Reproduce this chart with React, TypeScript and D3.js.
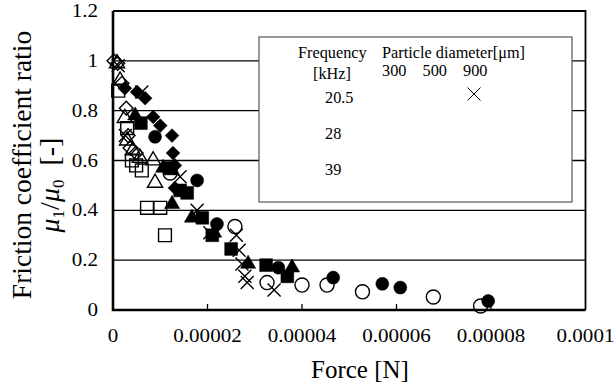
import React from "react";
import * as d3 from "d3";

// axis ticks
const xTicks = [0, 0.00002, 0.00004, 0.00006, 0.00008, 0.0001];
const yTicks = [0, 0.2, 0.4, 0.6, 0.8, 1, 1.2];

// legend texts
const freqLabels = ["20.5", "28", "39"];
const diaLabels = ["300", "500", "900"];

// [force N, mu1/mu0]
const f205_d300 = [
  [0.0000002, 1.0], [0.000001, 0.99], [0.0000019, 0.91], [0.0000028, 0.81],
  [0.0000032, 0.7], [0.0000036, 0.65], [0.0000049, 0.63],
];
const f205_d500 = [
  [0.0000011, 0.88], [0.000003, 0.73], [0.000004, 0.6], [0.0000049, 0.58],
  [0.0000061, 0.56], [0.0000072, 0.41], [0.00001, 0.41], [0.000011, 0.3],
];
const f205_d900 = [
  [0.0000011, 0.98], [0.0000061, 0.875], [0.0000026, 0.7], [0.0000142, 0.535],
  [0.0000178, 0.4], [0.0000205, 0.31], [0.0000261, 0.3], [0.0000267, 0.24],
  [0.0000273, 0.185], [0.0000279, 0.135], [0.0000284, 0.11], [0.0000341, 0.08],
];
const f28_d300 = [
  [0.00000085, 0.99], [0.0000015, 0.92], [0.0000025, 0.77], [0.000003, 0.68],
  [0.0000042, 0.64], [0.0000057, 0.61], [0.0000085, 0.6], [0.0000089, 0.51],
];
const f28_d500 = [
  [0.0000025, 0.89], [0.0000051, 0.875], [0.0000068, 0.85], [0.0000085, 0.775],
  [0.00001, 0.74], [0.0000125, 0.7], [0.0000127, 0.63], [0.0000131, 0.58],
  [0.0000131, 0.49],
];
const f28_d900 = [
  [0.0000059, 0.75], [0.0000121, 0.57], [0.0000142, 0.48], [0.0000157, 0.47],
  [0.0000189, 0.37], [0.000021, 0.3], [0.000025, 0.245], [0.0000324, 0.18],
  [0.0000369, 0.135],
];
const f39_d300 = [
  [0.0000047, 0.78], [0.0000106, 0.57], [0.0000125, 0.56], [0.0000125, 0.425],
  [0.0000167, 0.37], [0.0000214, 0.31], [0.0000286, 0.185], [0.0000379, 0.17],
];
const f39_d500 = [
  [0.0000121, 0.55], [0.0000258, 0.335], [0.0000326, 0.11], [0.00004, 0.1],
  [0.0000453, 0.1], [0.0000528, 0.073], [0.0000678, 0.052], [0.0000778, 0.016],
];
const f39_d900 = [
  [0.0000089, 0.695], [0.0000178, 0.52], [0.000022, 0.345], [0.000035, 0.17],
  [0.0000466, 0.13], [0.000057, 0.105], [0.0000608, 0.09], [0.0000794, 0.036],
];

const series = [
  { name: "20.5kHz 300", marker: "diamond", filled: false, pts: f205_d300 },
  { name: "20.5kHz 500", marker: "square", filled: false, pts: f205_d500 },
  { name: "28kHz 300", marker: "triangle", filled: false, pts: f28_d300 },
  { name: "39kHz 500", marker: "circle", filled: false, pts: f39_d500 },
  { name: "20.5kHz 900", marker: "times", filled: false, pts: f205_d900 },
  { name: "28kHz 500", marker: "diamond", filled: true, pts: f28_d500 },
  { name: "28kHz 900", marker: "square", filled: true, pts: f28_d900 },
  { name: "39kHz 300", marker: "triangle", filled: true, pts: f39_d300 },
  { name: "39kHz 900", marker: "circle", filled: true, pts: f39_d900 },
];

const FONT = "Liberation Serif, Times New Roman, serif";

const markerPath = (type: string, filled: boolean) => {
  if (type === "circle") return d3.symbol(d3.symbolCircle, filled ? 133 : 155)();
  if (type === "square") return d3.symbol(d3.symbolSquare, 165)();
  if (type === "triangle") return d3.symbol(d3.symbolTriangle, 100)();
  if (type === "diamond") return d3.symbol(d3.symbolSquare, 95)();
  const r = 6.5;
  const p = d3.path();
  p.moveTo(-r, -r); p.lineTo(r, r);
  p.moveTo(r, -r); p.lineTo(-r, r);
  return p.toString();
};

const fmtX = (v: number) => (v === 0 ? "0" : v.toFixed(5).replace(/0+$/, ""));
const fmtY = (v: number) => String(+v.toFixed(1));

const App = () => {
  const ref = React.useRef<SVGSVGElement>(null);

  React.useEffect(() => {
    const width = 614;
    const height = 382;
    const plot = { left: 113, right: 585.5, top: 11, bottom: 310 };

    const svg = d3.select(ref.current);
    svg.selectAll("*").remove();
    svg.attr("width", width).attr("height", height);

    const x = d3.scaleLinear().domain([0, 0.0001]).range([plot.left, plot.right]);
    const y = d3.scaleLinear().domain([0, 1.2]).range([plot.bottom, plot.top]);

    // gridlines
    svg.append("g")
      .selectAll("line")
      .data(yTicks.filter(d => d > 0 && d < 1.2))
      .join("line")
      .attr("x1", plot.left).attr("x2", plot.right)
      .attr("y1", d => y(d)).attr("y2", d => y(d))
      .attr("stroke", "#000").attr("stroke-width", 1.3);

    // frame top / right
    svg.append("path")
      .attr("d", `M${plot.left},${y(1.2)}H${x(0.0001)}V${plot.bottom}`)
      .attr("fill", "none").attr("stroke", "#000").attr("stroke-width", 1.8);

    // x tick marks
    svg.append("g")
      .selectAll("line")
      .data(xTicks.filter(d => d > 0 && d < 0.0001))
      .join("line")
      .attr("x1", d => x(d)).attr("x2", d => x(d))
      .attr("y1", plot.bottom).attr("y2", plot.bottom - 6)
      .attr("stroke", "#000").attr("stroke-width", 1.3);

    // legend box
    const lg = svg.append("g").attr("font-family", FONT).attr("font-size", 16.3).attr("fill", "#000");
    lg.append("rect")
      .attr("x", 259).attr("y", 37).attr("width", 313).attr("height", 165)
      .attr("fill", "#fff").attr("stroke", "#555").attr("stroke-width", 1.2);
    lg.append("text").attr("x", 298).attr("y", 58).text("Frequency");
    lg.append("text").attr("x", 313).attr("y", 79).text("[kHz]");
    lg.append("text").attr("x", 382).attr("y", 58).text("Particle diameter[μm]");
    const dx = d3.scalePoint().domain(diaLabels).range([382, 463]);
    lg.selectAll(".dia").data(diaLabels).join("text")
      .attr("class", "dia").attr("x", d => dx(d)!).attr("y", 75.5).text(d => d);
    const fy = d3.scalePoint().domain(freqLabels).range([102.5, 175]);
    lg.selectAll(".freq").data(freqLabels).join("text")
      .attr("class", "freq").attr("x", 325).attr("y", d => fy(d)!).text(d => d);
    lg.append("path")
      .attr("transform", `translate(${dx("900")! + 11},${fy("20.5")! - 8.5})`)
      .attr("d", markerPath("times", false))
      .attr("fill", "none").attr("stroke", "#000").attr("stroke-width", 1);

    // data markers
    series.forEach(s => {
      svg.append("g")
        .selectAll("path")
        .data(s.pts)
        .join("path")
        .attr("transform", d => `translate(${x(d[0])},${y(d[1])})` + (s.marker === "diamond" ? " rotate(45)" : ""))
        .attr("d", markerPath(s.marker, s.filled))
        .attr("fill", s.filled ? "#000" : "none")
        .attr("stroke", "#000")
        .attr("stroke-width", s.filled ? 0.5 : 1.4);
    });

    // axes lines
    svg.append("path")
      .attr("d", `M${plot.left},${plot.top}V${plot.bottom}H${plot.right}`)
      .attr("fill", "none").attr("stroke", "#000").attr("stroke-width", 2.6);

    // tick labels
    svg.append("g")
      .selectAll("text")
      .data(xTicks)
      .join("text")
      .attr("transform", d => `translate(${x(d)},342) scale(1.17,1)`)
      .attr("text-anchor", "middle")
      .attr("font-family", FONT).attr("font-size", 18)
      .text(fmtX);
    svg.append("g")
      .selectAll("text")
      .data(yTicks)
      .join("text")
      .attr("transform", d => `translate(98,${y(d) + 6}) scale(1.17,1)`)
      .attr("text-anchor", "end")
      .attr("font-family", FONT).attr("font-size", 18)
      .text(fmtY);

    // axis titles
    svg.append("text")
      .attr("x", 360).attr("y", 378)
      .attr("text-anchor", "middle")
      .attr("font-family", FONT).attr("font-size", 25)
      .text("Force [N]");
    svg.append("text")
      .attr("transform", "translate(31,165) rotate(-90)")
      .attr("text-anchor", "middle")
      .attr("font-family", FONT).attr("font-size", 27.5)
      .text("Friction coefficient ratio");

    const t2 = svg.append("text")
      .attr("transform", "translate(59,185) rotate(-90)")
      .attr("text-anchor", "middle")
      .attr("font-family", FONT).attr("font-size", 28);
    t2.append("tspan").attr("font-style", "italic").text("μ");
    t2.append("tspan").attr("font-size", 17).attr("dy", 5).text("1");
    t2.append("tspan").attr("dy", -5).text("/");
    t2.append("tspan").attr("font-style", "italic").text("μ");
    t2.append("tspan").attr("font-size", 17).attr("dy", 5).text("0");
    t2.append("tspan").attr("dy", -5).attr("dx", 14).text("[-]");
  }, []);

  return (
    <svg
      ref={ref}
      style={{ position: "absolute", left: 0, top: 0, background: "#fff" }}
    />
  );
};

export default App;
